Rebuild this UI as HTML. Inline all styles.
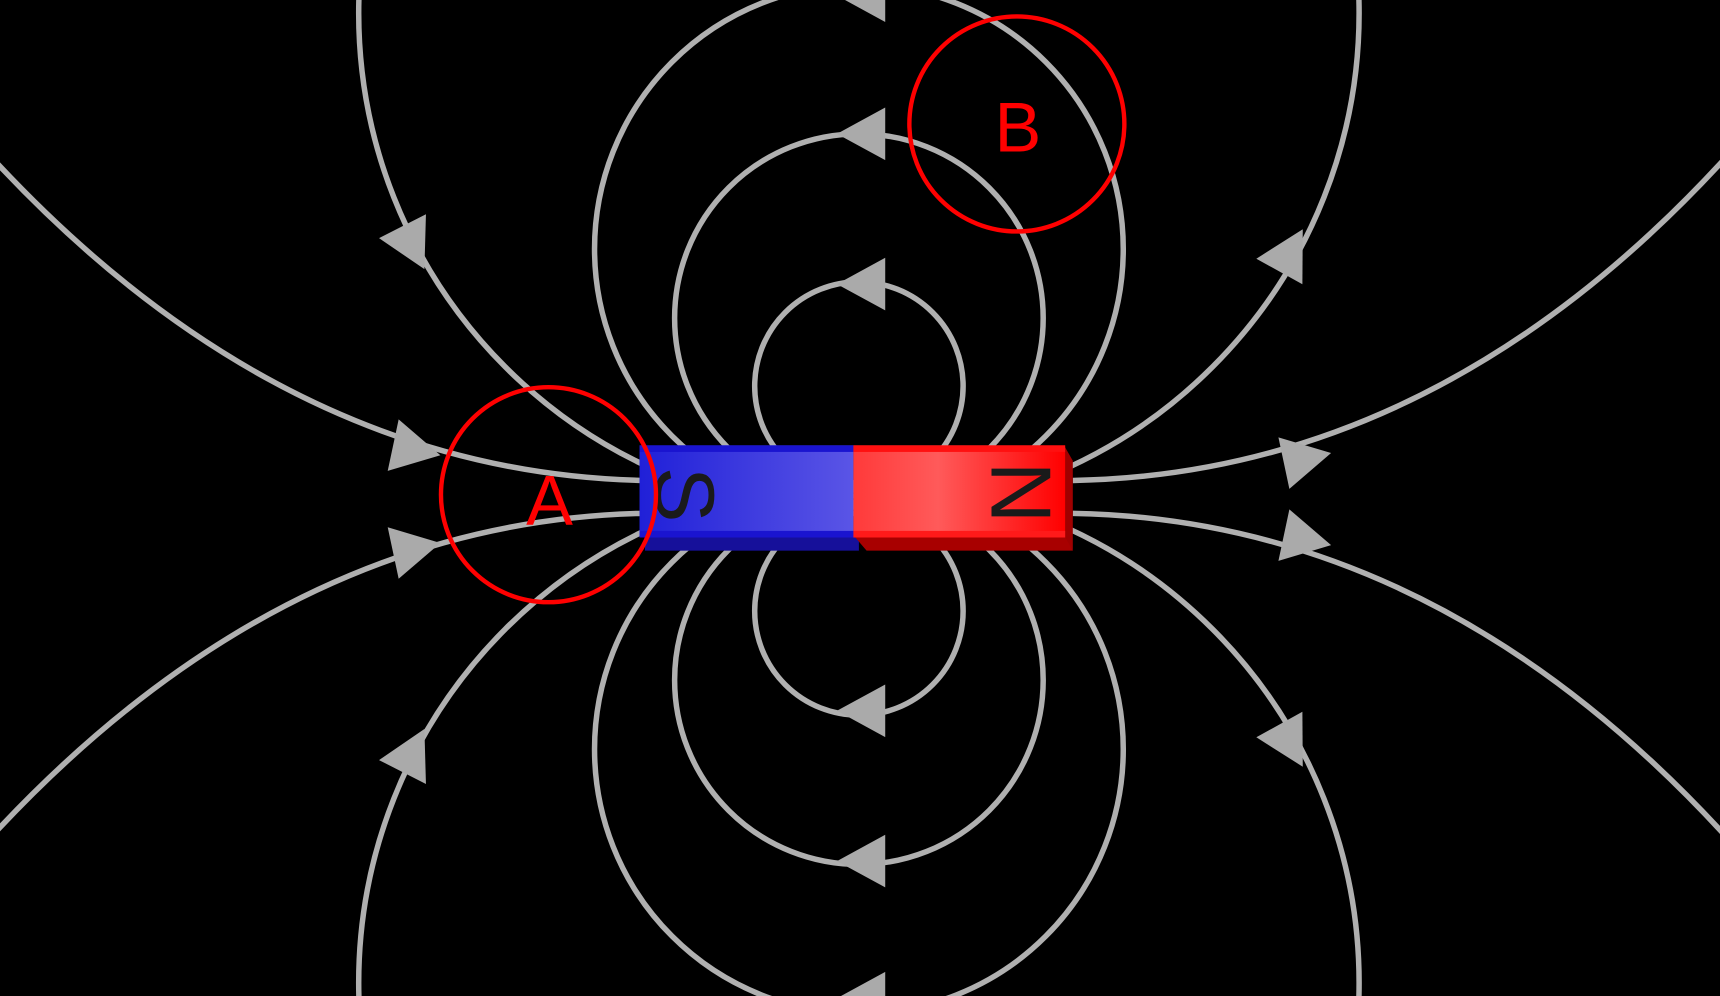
<!DOCTYPE html>
<html><head><meta charset="utf-8"><style>
html,body{margin:0;padding:0;background:#000;width:1720px;height:996px;overflow:hidden}
svg{display:block}
</style></head><body>
<svg width="1720" height="996" viewBox="0 0 1568 908" preserveAspectRatio="none" xmlns="http://www.w3.org/2000/svg">
<defs>
<linearGradient id="bl" x1="0" x2="1" y1="0" y2="0"><stop offset="0" stop-color="#2020d8"/><stop offset="1" stop-color="#5a55e6"/></linearGradient>
<linearGradient id="rd" x1="0" x2="1" y1="0" y2="0"><stop offset="0" stop-color="#ff3a3a"/><stop offset="0.4" stop-color="#ff5a5a"/><stop offset="1" stop-color="#ff0000"/></linearGradient>
<path id="ar" d="M 24,0 L -20,-24 L -20,24 Z" fill="#aaaaaa"/>
</defs>
<rect width="1568" height="908" fill="#000"/>
<g fill="none" stroke="#b0b0b0" stroke-width="5">
<circle cx="783" cy="352" r="95"/>
<circle cx="783" cy="557" r="95"/>
<circle cx="783" cy="290" r="168"/>
<circle cx="783" cy="620" r="168"/>
<circle cx="783" cy="227" r="241"/>
<circle cx="783" cy="683" r="241"/>
<circle cx="783" cy="12" r="456"/>
<circle cx="783" cy="896" r="456"/>
<path d="M -20,130 Q 250,430 585,438"/>
<path d="M -20,776 Q 250,476 585,468"/>
<path d="M 978,438 Q 1320,432 1590,125"/>
<path d="M 978,468 Q 1320,474 1590,781"/>
</g>
<use href="#ar" transform="translate(787,122) rotate(180)"/>
<use href="#ar" transform="translate(787,259) rotate(180)"/>
<use href="#ar" transform="translate(787,-4) rotate(180)"/>
<use href="#ar" transform="translate(787,648) rotate(180)"/>
<use href="#ar" transform="translate(787,785) rotate(180)"/>
<use href="#ar" transform="translate(787,910) rotate(180)"/>
<use href="#ar" transform="translate(378,410) rotate(12)"/>
<use href="#ar" transform="translate(378,500) rotate(-12)"/>
<use href="#ar" transform="translate(1190,418) rotate(-12)"/>
<use href="#ar" transform="translate(1190,492) rotate(12)"/>
<use href="#ar" transform="translate(376,224) rotate(63)"/>
<use href="#ar" transform="translate(376,686) rotate(-63)"/>
<use href="#ar" transform="translate(1176,230) rotate(-61)"/>
<use href="#ar" transform="translate(1176,678) rotate(61)"/>
<rect x="588" y="488" width="195" height="14" fill="#16109a"/>
<polygon points="778,488 972,488 978,502 790,502" fill="#a80000"/>
<polygon points="970,406 978,420 978,502 970,488" fill="#a00000"/>
<rect x="583" y="406" width="195" height="84" fill="url(#bl)"/>
<rect x="778" y="406" width="193" height="84" fill="url(#rd)"/>
<rect x="583" y="406" width="195" height="6" fill="#1a14d0"/>
<rect x="778" y="406" width="193" height="6" fill="#ff1010"/>
<rect x="583" y="484" width="195" height="6" fill="#1a14d0"/>
<rect x="778" y="484" width="193" height="6" fill="#ff1a1a"/>
<text x="0" y="0" font-family="Liberation Sans, sans-serif" font-size="76" fill="#1a1a1a" text-anchor="middle" dominant-baseline="central" transform="translate(624,451) rotate(90)">S</text>
<text x="0" y="0" font-family="Liberation Sans, sans-serif" font-size="78" fill="#1a1a1a" text-anchor="middle" dominant-baseline="central" transform="translate(930,449) rotate(90)">N</text>
<g fill="none" stroke="#ff0000" stroke-width="4">
<circle cx="500" cy="451" r="98"/>
<circle cx="927" cy="113" r="98"/>
</g>
<text x="501" y="456" font-family="Liberation Sans, sans-serif" font-size="64" fill="#ff0000" text-anchor="middle" dominant-baseline="central">A</text>
<text x="928" y="116" font-family="Liberation Sans, sans-serif" font-size="64" fill="#ff0000" text-anchor="middle" dominant-baseline="central">B</text>
</svg>
</body></html>
